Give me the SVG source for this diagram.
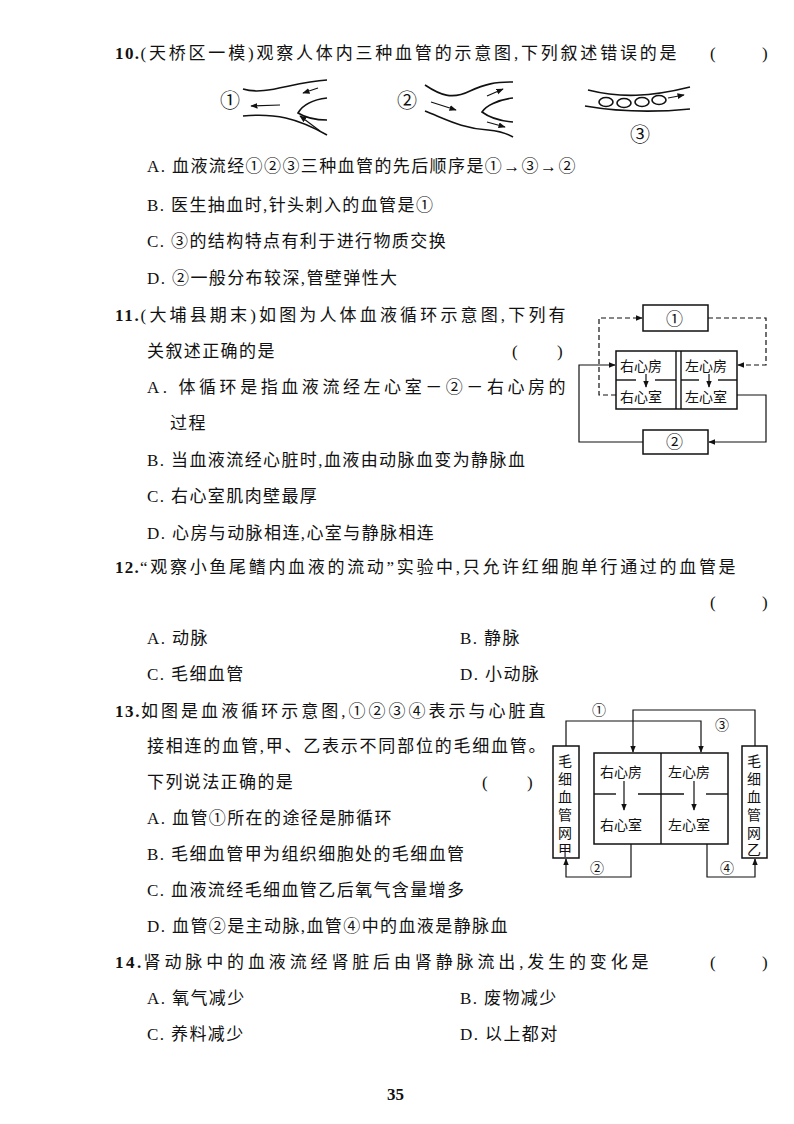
<svg xmlns="http://www.w3.org/2000/svg" width="794" height="1124" viewBox="0 0 794 1124">
<defs>
<marker id="ah" viewBox="0 0 10 10" refX="9" refY="5" markerWidth="6" markerHeight="6" orient="auto"><path d="M0,1 L10,5 L0,9 z" fill="#111"/></marker>
<style>
text{font-family:"Liberation Serif","Noto Sans CJK SC",serif;font-size:17px;letter-spacing:1.4px;fill:#111}
.n{font-weight:bold;letter-spacing:0}
.s{font-size:14px;letter-spacing:0}
.c{font-size:20px;letter-spacing:0}
.ln{fill:none;stroke:#111;stroke-width:1.4}
.v{fill:none;stroke:#111;stroke-width:1.6}
.a{fill:none;stroke:#111;stroke-width:1.2;marker-end:url(#ah)}
.d{stroke-dasharray:5 3}
.bx{fill:#fff;stroke:#111;stroke-width:1.5}
</style>
</defs>
<rect width="794" height="1124" fill="#fff"/>

<!-- Question 10 -->
<text x="115" y="59" textLength="563"><tspan class="n">10.</tspan>(天桥区一模)观察人体内三种血管的示意图,下列叙述错误的是</text>
<text x="710" y="59">(</text><text x="762" y="59">)</text>
<g id="vessel1">
<text x="220" y="108" class="c">①</text>
<path class="v" d="M243,89 C265,96 292,82 327,80"/>
<path class="v" d="M243,116 C275,113 297,118 327,135"/>
<path class="v" d="M327,98 C310,100 302,106 298,113 C306,118 316,120 327,120"/>
<path class="a" d="M318,88 L303,93"/>
<path class="a" d="M280,105 L251,106"/>
<path class="a" d="M320,131 L300,116"/>
</g>
<g id="vessel2">
<text x="397" y="108" class="c">②</text>
<path class="v" d="M425,85 C440,95 452,100 470,91 C485,84 495,82 513,82"/>
<path class="v" d="M425,111 C450,121 462,128 488,130 C500,131 506,133 513,137"/>
<path class="v" d="M513,98 C497,100 486,106 482,112 C490,118 500,121 513,122"/>
<path class="a" d="M431,102 L456,110"/>
<path class="a" d="M487,96 L503,89"/>
<path class="a" d="M487,122 L505,127"/>
</g>
<g id="vessel3">
<path class="v" d="M588,90 C620,98 650,97 690,87"/>
<path class="v" d="M585,106 C620,112 660,112 690,109"/>
<ellipse class="v" cx="606" cy="102" rx="7" ry="4.5"/>
<ellipse class="v" cx="624" cy="103" rx="7" ry="4.5"/>
<ellipse class="v" cx="642" cy="102" rx="7" ry="4.5"/>
<ellipse class="v" cx="659" cy="100" rx="7" ry="4.5"/>
<path class="a" d="M668,98 L684,95"/>
<text x="630" y="142" class="c">③</text>
</g>
<text x="147" y="172">A. 血液流经①②③三种血管的先后顺序是①→③→②</text>
<text x="147" y="211">B. 医生抽血时,针头刺入的血管是①</text>
<text x="147" y="247">C. ③的结构特点有利于进行物质交换</text>
<text x="147" y="284">D. ②一般分布较深,管壁弹性大</text>

<!-- Question 11 -->
<text x="115" y="321" textLength="452"><tspan class="n">11.</tspan>(大埔县期末)如图为人体血液循环示意图,下列有</text>
<text x="147" y="357">关叙述正确的是</text>
<text x="512" y="357">(</text><text x="557" y="357">)</text>
<text x="147" y="393" textLength="420">A. 体循环是指血液流经左心室－②－右心房的</text>
<text x="170" y="429">过程</text>
<text x="147" y="466">B. 当血液流经心脏时,血液由动脉血变为静脉血</text>
<text x="147" y="502">C. 右心室肌肉壁最厚</text>
<text x="147" y="539">D. 心房与动脉相连,心室与静脉相连</text>

<g id="c11-connectors">
<path class="a d" d="M616,395 H599 V318 H642"/>
<path class="a d" d="M708,318 H766 V365 H738"/>
<path class="a" d="M737,395 H766 V442 H709"/>
<path class="a" d="M643,442 H579 V365 H615"/>
</g>
<g id="c11-box1"><rect class="bx" x="643" y="305" width="65" height="26"/><text x="666" y="325">①</text></g>
<g id="c11-box2"><rect class="bx" x="643" y="430" width="65" height="24"/><text x="666" y="448">②</text></g>
<g id="c11-heart">
<rect class="bx" x="616" y="351" width="121" height="58"/>
<line class="ln" x1="676" y1="351" x2="676" y2="409"/>
<line class="ln" x1="681" y1="351" x2="681" y2="409"/>
<line class="ln" x1="616" y1="380" x2="636" y2="380"/><line class="ln" x1="655" y1="380" x2="676" y2="380"/>
<line class="ln" x1="681" y1="380" x2="699" y2="380"/><line class="ln" x1="718" y1="380" x2="737" y2="380"/>
<text x="620" y="371" class="s">右心房</text>
<text x="620" y="402" class="s">右心室</text>
<text x="685" y="371" class="s">左心房</text>
<text x="685" y="402" class="s">左心室</text>
<path class="a" d="M646,374 L646,387"/>
<path class="a" d="M709,374 L709,387"/>
</g>

<!-- Question 12 -->
<text x="115" y="573" textLength="622"><tspan class="n">12.</tspan>“观察小鱼尾鳍内血液的流动”实验中,只允许红细胞单行通过的血管是</text>
<text x="710" y="608">(</text><text x="762" y="608">)</text>
<text x="147" y="644">A. 动脉</text>
<text x="460" y="644">B. 静脉</text>
<text x="147" y="680">C. 毛细血管</text>
<text x="460" y="680">D. 小动脉</text>

<!-- Question 13 -->
<text x="115" y="717" textLength="432"><tspan class="n">13.</tspan>如图是血液循环示意图,①②③④表示与心脏直</text>
<text x="147" y="752" textLength="400">接相连的血管,甲、乙表示不同部位的毛细血管。</text>
<text x="147" y="788">下列说法正确的是</text>
<text x="482" y="788">(</text><text x="527" y="788">)</text>
<text x="147" y="824">A. 血管①所在的途径是肺循环</text>
<text x="147" y="860">B. 毛细血管甲为组织细胞处的毛细血管</text>
<text x="147" y="896">C. 血液流经毛细血管乙后氧气含量增多</text>
<text x="147" y="932">D. 血管②是主动脉,血管④中的血液是静脉血</text>

<g id="c13-connectors">
<path class="a" d="M566,746 V721 H701 V752"/>
<path class="a" d="M755,746 V710 H633 V752"/>
<path class="a" d="M631,844 V877 H566 V859"/>
<path class="a" d="M707,844 V877 H755 V859"/>
<text x="592" y="715" class="s">①</text>
<text x="715" y="730" class="s">③</text>
<text x="590" y="873" class="s">②</text>
<text x="720" y="873" class="s">④</text>
</g>
<g id="c13-jia">
<rect class="bx" x="553" y="746" width="26" height="112"/>
<text x="558" y="766" class="s">毛</text><text x="558" y="784" class="s">细</text><text x="558" y="802" class="s">血</text><text x="558" y="820" class="s">管</text><text x="558" y="838" class="s">网</text><text x="558" y="855" class="s">甲</text>
</g>
<g id="c13-yi">
<rect class="bx" x="742" y="746" width="25" height="112"/>
<text x="747" y="766" class="s">毛</text><text x="747" y="784" class="s">细</text><text x="747" y="802" class="s">血</text><text x="747" y="820" class="s">管</text><text x="747" y="838" class="s">网</text><text x="747" y="855" class="s">乙</text>
</g>
<g id="c13-heart">
<rect class="bx" x="594" y="753" width="134" height="91"/>
<line class="ln" x1="661" y1="753" x2="661" y2="844"/>
<line class="ln" x1="594" y1="794" x2="616" y2="794"/><line class="ln" x1="638" y1="794" x2="684" y2="794"/><line class="ln" x1="706" y1="794" x2="728" y2="794"/>
<text x="600" y="777" class="s">右心房</text>
<text x="600" y="830" class="s">右心室</text>
<text x="668" y="777" class="s">左心房</text>
<text x="668" y="830" class="s">左心室</text>
<path class="a" d="M624,781 L624,810"/>
<path class="a" d="M694,781 L694,810"/>
</g>

<!-- Question 14 -->
<text x="115" y="968" textLength="535"><tspan class="n">14.</tspan>肾动脉中的血液流经肾脏后由肾静脉流出,发生的变化是</text>
<text x="710" y="968">(</text><text x="762" y="968">)</text>
<text x="147" y="1004">A. 氧气减少</text>
<text x="460" y="1004">B. 废物减少</text>
<text x="147" y="1040">C. 养料减少</text>
<text x="460" y="1040">D. 以上都对</text>

<text x="387" y="1100" class="n">35</text>
</svg>
